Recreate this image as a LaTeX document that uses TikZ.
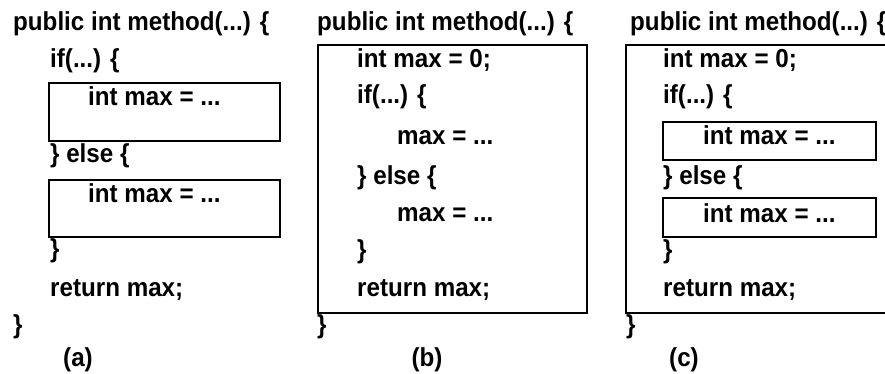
\documentclass[tikz,border=0pt]{standalone}
\usepackage{fontspec}
\setmainfont{Liberation Sans}[FakeStretch=0.93]
\begin{document}
\begin{tikzpicture}[x=1pt,y=-1pt]

      \clip (0,0) rectangle (885,374);

      \begin{scope}[every node/.style={anchor=base west, inner sep=0pt,
          font=\fontsize{26}{30}\selectfont\bfseries}]
        % (a)
        \node (a1)  at (13,31)  {public int method(...) \{};
        \node (a2)  at (50,68)  {if(...) \{};
        \node (a3)  at (88,106) {int max = ...};
        \node (a4)  at (50,163) {\} else \{};
        \node (a5)  at (88,202) {int max = ...};
        \node (a6)  at (50,257) {\}};
        \node (a7)  at (50,296) {return max;};
        \node (a8)  at (13,333) {\}};
        \node[anchor=base] (a9) at (78,366) {(a)};

        % (b)
        \node (b1)  at (317,31)  {public int method(...) \{};
        \node (b2)  at (357,68)  {int max = 0;};
        \node (b3)  at (357,104) {if(...) \{};
        \node (b4)  at (397,145) {max = ...};
        \node (b5)  at (357,184) {\} else \{};
        \node (b6)  at (397,221) {max = ...};
        \node (b7)  at (357,258) {\}};
        \node (b8)  at (357,296) {return max;};
        \node (b9)  at (317,333) {\}};
        \node[anchor=base] (b10) at (427,366) {(b)};

        % (c)
        \node (c1)  at (630,31)  {public int method(...) \{};
        \node (c2)  at (663,68)  {int max = 0;};
        \node (c3)  at (663,104) {if(...) \{};
        \node (c4)  at (703,145) {int max = ...};
        \node (c5)  at (663,184) {\} else \{};
        \node (c6)  at (703,222) {int max = ...};
        \node (c7)  at (663,258) {\}};
        \node (c8)  at (663,296) {return max;};
        \node (c9)  at (626,333) {\}};
        \node[anchor=base] (c10) at (684,366) {(c)};
      \end{scope}

      \begin{scope}[line width=1.6pt]
        \draw (49,83)   rectangle (280,141);
        \draw (49,180)  rectangle (280,237);
        \draw (318,45)  rectangle (587,313);
        \draw (626,45)  rectangle (900,313);
        \draw (663,122) rectangle (876,160);
        \draw (663,198) rectangle (876,237);
      \end{scope}

    \end{tikzpicture}
\end{document}
